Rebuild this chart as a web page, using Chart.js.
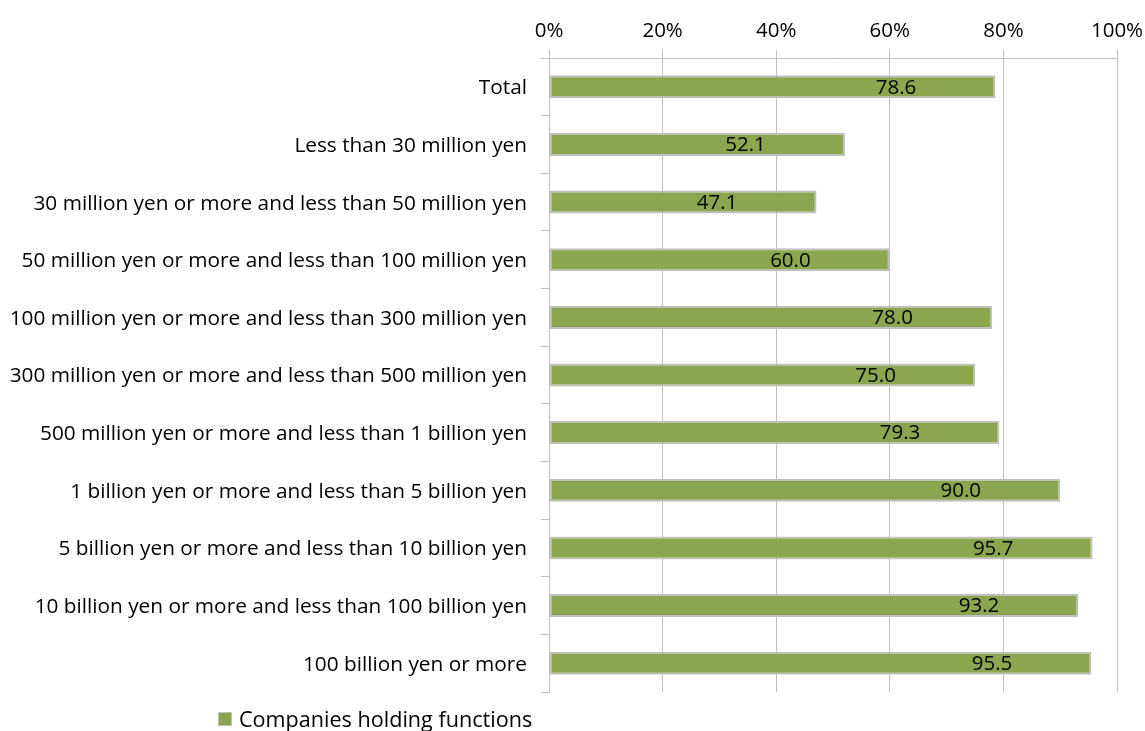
<!DOCTYPE html>
<html>
<head>
<meta charset="utf-8">
<script src="https://cdn.jsdelivr.net/npm/chart.js@4.4.1/dist/chart.umd.min.js"></script>
<style>
  html, body { margin: 0; padding: 0; background: #fff; }
  #wrap { position: relative; width: 1145px; height: 731px; overflow: hidden; }
  #legend {
    position: absolute; left: 218px; top: 704px;
    font-family: "Open Sans", sans-serif; font-size: 21.6px; color: #000;
    display: flex; align-items: center; white-space: nowrap;
  }
  #legend .swatch {
    width: 12px; height: 12px; background: #8BA64F; border: 1px solid #BFBFBF;
    margin-right: 7px;
  }
</style>
</head>
<body>
<div id="wrap">
  <canvas id="chart" width="1145" height="731"></canvas>
  <div id="legend"><span class="swatch"></span><span>Companies holding functions</span></div>
</div>
<script>
// Capital size groups
const categories = [
    "Total",
    "Less than 30 million yen",
    "30 million yen or more and less than 50 million yen",
    "50 million yen or more and less than 100 million yen",
    "100 million yen or more and less than 300 million yen",
    "300 million yen or more and less than 500 million yen",
    "500 million yen or more and less than 1 billion yen",
    "1 billion yen or more and less than 5 billion yen",
    "5 billion yen or more and less than 10 billion yen",
    "10 billion yen or more and less than 100 billion yen",
    "100 billion yen or more"
];

// Share of companies holding functions (%)
const holdingFunctions = [78.6, 52.1, 47.1, 60.0, 78.0, 75.0, 79.3, 90.0, 95.7, 93.2, 95.5];

const xTicks = [0, 20, 40, 60, 80, 100];

const FONT = "'Open Sans', sans-serif";
const GRID = "#BFBFBF";

// value labels sit inside the bar, a bit back from its end
const valueLabels = {
    id: "valueLabels",
    afterDatasetsDraw(chart) {
        const ctx = chart.ctx;
        const xs = chart.scales.x;
        const meta = chart.getDatasetMeta(0);
        ctx.save();
        ctx.font = "20.5px " + FONT;
        ctx.fillStyle = "#000";
        ctx.textAlign = "center";
        ctx.textBaseline = "middle";
        meta.data.forEach((bar, i) => {
            const v = holdingFunctions[i];
            const x = xs.getPixelForValue(v - 17.5);
            ctx.fillText(v.toFixed(1), x, bar.y + 1);
        });
        ctx.restore();
    }
};

new Chart(document.getElementById("chart"), {
    type: "bar",
    data: {
        labels: categories,
        datasets: [{
            label: "Companies holding functions",
            data: holdingFunctions,
            backgroundColor: "#8BA64F",
            borderColor: "#BFBFBF",
            borderWidth: 2,
            borderSkipped: false,
            barPercentage: 0.4,
            categoryPercentage: 1.0
        }]
    },
    options: {
        indexAxis: "y",
        responsive: false,
        animation: false,
        layout: { padding: { top: 0, right: 28, bottom: 39, left: 0 } },
        plugins: {
            legend: { display: false },
            tooltip: { enabled: false }
        },
        scales: {
            x: {
                position: "top",
                min: 0,
                max: 100,
                afterBuildTicks: scale => { scale.ticks = xTicks.map(v => ({ value: v })); },
                afterFit: scale => {
                    scale.height = 58;
                    scale.paddingRight = 0;
                    scale.paddingLeft = 0;
                },
                grid: { color: GRID, lineWidth: 1, tickLength: 8, drawTicks: true },
                border: { color: GRID, width: 1 },
                ticks: {
                    color: "#000",
                    font: { family: FONT, size: 20.5 },
                    padding: 7,
                    maxRotation: 0,
                    callback: v => v + "%"
                }
            },
            y: {
                afterFit: scale => { scale.width = 549; },
                grid: { display: true, drawOnChartArea: false, drawTicks: true, tickLength: 8, color: GRID, offset: true },
                border: { color: GRID, width: 1 },
                ticks: {
                    color: "#000",
                    font: { family: FONT, size: 20.8 },
                    padding: 14,
                    labelOffset: 1.5
                }
            }
        }
    },
    plugins: [valueLabels]
});
</script>
</body>
</html>
